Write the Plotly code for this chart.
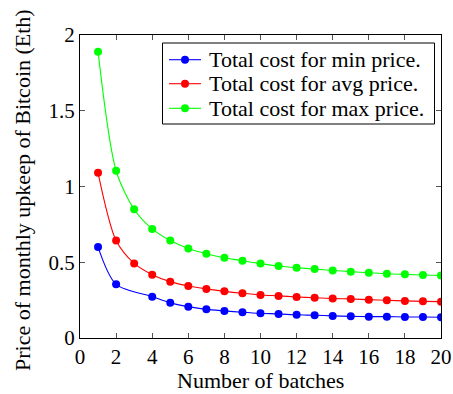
import plotly.graph_objects as go

x_min = [1, 2, 4, 5, 6, 7, 8, 9, 10, 11, 12, 13, 14, 15, 16, 17, 18, 19, 20]
y_min = [0.600, 0.354, 0.273, 0.232, 0.207, 0.189, 0.179, 0.170, 0.163, 0.159,
         0.153, 0.150, 0.146, 0.143, 0.141, 0.141, 0.139, 0.139, 0.137]

x_all = list(range(1, 21))
y_avg = [1.090, 0.643, 0.492, 0.418, 0.372, 0.343, 0.324, 0.308, 0.295, 0.284,
         0.278, 0.271, 0.266, 0.260, 0.258, 0.253, 0.249, 0.245, 0.242, 0.240]
y_max = [1.890, 1.104, 0.850, 0.720, 0.643, 0.591, 0.556, 0.530, 0.510, 0.491,
         0.475, 0.464, 0.455, 0.446, 0.438, 0.431, 0.424, 0.420, 0.416, 0.413]

names = ["Total cost for min price.", "Total cost for avg price.", "Total cost for max price."]
colors = ["#0000FF", "#FF0000", "#00FF00"]
x_ticks = list(range(0, 21, 2))
y_ticks = [0, 0.5, 1, 1.5, 2]
y_tick_text = ["0", "0.5", "1", "1.5", "2"]
x_title = "Number of batches"
y_title = "Price of monthly upkeep of Bitcoin (Eth)"

FONT = "Liberation Serif"
FS = 22
TICK_FS = 21

W, H = 453, 394
ML, MR, MT, MB = 80, 12, 35, 56
PW, PH = W - ML - MR, H - MT - MB


def px(X):
    return (X - ML) / PW


def py(Y):
    return (H - MB - Y) / PH


fig = go.Figure()
for xs, ys, nm, c in [(x_min, y_min, names[0], colors[0]),
                      (x_all, y_avg, names[1], colors[1]),
                      (x_all, y_max, names[2], colors[2])]:
    fig.add_trace(go.Scatter(
        x=xs, y=ys, name=nm, mode="lines+markers",
        line=dict(color=c, width=1.1, shape="spline", smoothing=0.8),
        marker=dict(color=c, size=8, line=dict(width=0)),
        showlegend=False,
    ))

axis_common = dict(
    showline=True, linecolor="black", linewidth=1, mirror="ticks",
    ticks="inside", ticklen=5, tickcolor="#555555", tickwidth=1,
    showgrid=False, zeroline=False, automargin=False,
    tickfont=dict(family=FONT, size=TICK_FS, color="black"),
)

fig.update_layout(
    width=W, height=H,
    margin=dict(l=ML, r=MR, t=MT, b=MB),
    paper_bgcolor="white", plot_bgcolor="white",
    font=dict(family=FONT, size=FS, color="black"),
    showlegend=False,
    xaxis=dict(range=[0, 20], tickvals=x_ticks, **axis_common),
    yaxis=dict(range=[0, 2], tickvals=y_ticks, ticktext=y_tick_text, **axis_common),
)

# axis titles
fig.add_annotation(text=x_title, xref="paper", yref="paper", x=px(260), y=py(380),
                   xanchor="center", yanchor="middle", showarrow=False,
                   font=dict(family=FONT, size=FS, color="black"))
fig.add_annotation(text=y_title, xref="paper", yref="paper", x=px(22), y=py(190),
                   xanchor="center", yanchor="middle", showarrow=False, textangle=-90,
                   font=dict(family=FONT, size=FS, color="black"))

# legend box (pgfplots style)
fig.add_shape(type="rect", xref="paper", yref="paper",
              x0=px(162.5), x1=px(434.5), y0=py(124), y1=py(43),
              line=dict(color="black", width=1), fillcolor="white", layer="above")
row_y = [59.7, 83.7, 108.3]
for nm, c, ry in zip(names, colors, row_y):
    fig.add_shape(type="line", xref="paper", yref="paper",
                  x0=px(169), x1=px(201), y0=py(ry), y1=py(ry),
                  line=dict(color=c, width=1.1), layer="above")
    fig.add_shape(type="circle", xref="paper", yref="paper",
                  xsizemode="pixel", ysizemode="pixel",
                  xanchor=px(185), yanchor=py(ry), x0=-4, x1=4, y0=-4, y1=4,
                  line=dict(width=0), fillcolor=c, layer="above")
    fig.add_annotation(text=nm, xref="paper", yref="paper", x=px(206.5), y=py(ry),
                       xanchor="left", yanchor="middle", showarrow=False,
                       font=dict(family=FONT, size=FS, color="black"))

fig.write_html("out.html", config={"displayModeBar": False},
               post_script="document.body.style.margin='0';")
